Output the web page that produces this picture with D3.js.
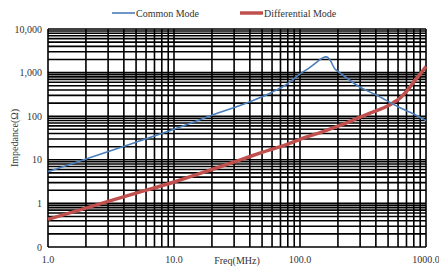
<!DOCTYPE html>
<html>
<head>
<meta charset="utf-8">
<script src="https://cdn.jsdelivr.net/npm/d3@7"></script>
<style>
  body { margin: 0; background: #fff; }
  text { font-family: "Liberation Serif", "Times New Roman", serif; fill: #333; }
</style>
</head>
<body>
<div id="drawArea"></div>
<script>
// frequency in MHz
var cmFreq = [1, 2, 5, 10, 20, 40, 60, 80, 100, 120, 140, 150, 163, 173, 190, 200, 300, 400, 600, 800, 1000];
var cmImp  = [5.3, 10.4, 25.4, 50, 105, 215, 355, 560, 930, 1320, 1860, 2150, 2300, 1950, 1190, 1070, 460, 310, 165, 112, 79];

var dmFreq = [1, 2, 5, 10, 20, 35, 50, 80, 100, 150, 200, 300, 400, 500, 550, 600, 650, 700, 750, 800, 900, 1000];
var dmImp  = [0.43, 0.78, 1.72, 3.1, 6.0, 10.4, 14.8, 23, 29.5, 43.6, 59, 95, 132, 174, 204, 240, 295, 372, 478, 620, 930, 1380];

var seriesNames = ["Common Mode", "Differential Mode"];
var seriesColors = ["#4a7ebb", "#c0504d"];
var xTicks = [1, 10, 100, 1000];
var yTicks = [0.1, 1, 10, 100, 1000, 10000];

var W = 439, H = 270;
var plotL = 48, plotR = 426, plotT = 29, plotB = 247;

var svg = d3.select("#drawArea").append("svg")
  .attr("width", W).attr("height", H);

var x = d3.scaleLog().domain([1, 1000]).range([plotL, plotR]);
var y = d3.scaleLog().domain([0.1, 10000]).range([plotB, plotT]);

// minor + major grid values (2..9 of each decade)
function decadeLines(lo, hi) {
  var out = [];
  for (var d = lo; d < hi * 0.999; d *= 10) {
    for (var k = 1; k < 10; k++) out.push(d * k);
  }
  out.push(hi);
  return out;
}

var grid = svg.append("g");
grid.selectAll("line.h")
  .data(decadeLines(0.1, 10000))
  .enter().append("line")
  .attr("x1", plotL).attr("x2", plotR)
  .attr("y1", function(d) { return y(d); })
  .attr("y2", function(d) { return y(d); })
  .attr("stroke", "#000").attr("stroke-width", 1.6);

grid.selectAll("line.v")
  .data(decadeLines(1, 1000))
  .enter().append("line")
  .attr("y1", plotT).attr("y2", plotB)
  .attr("x1", function(d) { return x(d); })
  .attr("x2", function(d) { return x(d); })
  .attr("stroke", "#000").attr("stroke-width", 1.6);

// tick labels
var fmtY = d3.format(",.0f");
var fmtX = d3.format(".1f");

svg.append("g").selectAll("text")
  .data(yTicks).enter().append("text")
  .attr("x", plotL - 6)
  .attr("y", function(d) { return y(d) + 3.5; })
  .attr("text-anchor", "end")
  .attr("font-size", 10)
  .text(function(d) { return fmtY(d); });

svg.append("g").selectAll("text")
  .data(xTicks).enter().append("text")
  .attr("x", function(d) { return x(d); })
  .attr("y", 263)
  .attr("text-anchor", "middle")
  .attr("font-size", 10)
  .text(function(d) { return fmtX(d); });

svg.append("text")
  .attr("x", 237).attr("y", 264)
  .attr("text-anchor", "middle")
  .attr("font-size", 10)
  .text("Freq(MHz)");

svg.append("text")
  .attr("transform", "translate(18,138) rotate(-90)")
  .attr("text-anchor", "middle")
  .attr("font-size", 10)
  .text("Impedance(Ω)");

// curves
var line = d3.line()
  .x(function(d) { return x(d[0]); })
  .y(function(d) { return y(d[1]); })
  .curve(d3.curveMonotoneX);

var cm = d3.zip(cmFreq, cmImp);
var dm = d3.zip(dmFreq, dmImp);

svg.append("path")
  .datum(dm)
  .attr("d", line)
  .attr("fill", "none")
  .attr("stroke", seriesColors[1])
  .attr("stroke-width", 3.5);

svg.append("path")
  .datum(cm)
  .attr("d", line)
  .attr("fill", "none")
  .attr("stroke", seriesColors[0])
  .attr("stroke-width", 1.6);

// legend
var legendX = [112, 240];
var legend = svg.append("g");
seriesNames.forEach(function(name, i) {
  legend.append("line")
    .attr("x1", legendX[i]).attr("x2", legendX[i] + 23)
    .attr("y1", 13).attr("y2", 13)
    .attr("stroke", seriesColors[i])
    .attr("stroke-width", i == 0 ? 1.6 : 3.5);
  legend.append("text")
    .attr("x", legendX[i] + 24).attr("y", 16.5)
    .attr("font-size", 10)
    .text(name);
});
</script>
</body>
</html>
